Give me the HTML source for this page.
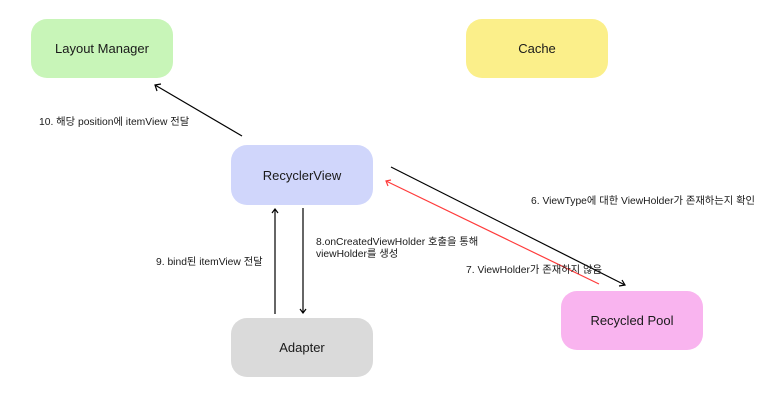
<!DOCTYPE html>
<html><head><meta charset="utf-8"><style>
body{margin:0;width:773px;height:413px;background:#fff;overflow:hidden;position:relative;font-family:"Liberation Sans","Noto Sans CJK KR",sans-serif;color:#1a1a1a}
.b{position:absolute;width:142px;height:59px;border-radius:16px;display:flex;align-items:center;justify-content:center;font-size:13px}
.t{position:absolute;font-size:10.3px;white-space:nowrap;line-height:12px}
svg{position:absolute;left:0;top:0}
</style></head><body>
<div class="b" style="left:31px;top:19px;background:#c8f5b8">Layout Manager</div>
<div class="b" style="left:466px;top:19px;background:#fbef8a">Cache</div>
<div class="b" style="left:231px;top:145px;height:60px;background:#d0d6fb">RecyclerView</div>
<div class="b" style="left:231px;top:318px;background:#dadada">Adapter</div>
<div class="b" style="left:561px;top:291px;background:#f9b4ef">Recycled Pool</div>
<svg width="773" height="413" fill="none" stroke-width="1.2">
<g stroke="#000">
<line x1="242" y1="136" x2="155" y2="85"/><polyline points="161,84 155,85 157,91"/>
<line x1="391" y1="167" x2="625" y2="285"/><polyline points="619,286 625,285 622,280"/>
<line x1="275" y1="314" x2="275" y2="209"/><polyline points="272,213 275,209 278,213"/>
<line x1="303" y1="208" x2="303" y2="313"/><polyline points="300,309 303,313 306,309"/>
</g>
<g stroke="#ff3b3b">
<line x1="599" y1="284" x2="386" y2="181"/><polyline points="391,180 386,181 388,186"/>
</g>
</svg>
<div class="t" style="left:39px;top:117px">10. 해당 position에 itemView 전달</div>
<div class="t" style="left:531px;top:196px">6. ViewType에 대한 ViewHolder가 존재하는지 확인</div>
<div class="t" style="left:316px;top:237px">8.onCreatedViewHolder 호출을 통해<br>viewHolder를 생성</div>
<div class="t" style="left:156px;top:257px">9. bind된 itemView 전달</div>
<div class="t" style="left:466px;top:265px">7. ViewHolder가 존재하지 않음</div>
</body></html>
